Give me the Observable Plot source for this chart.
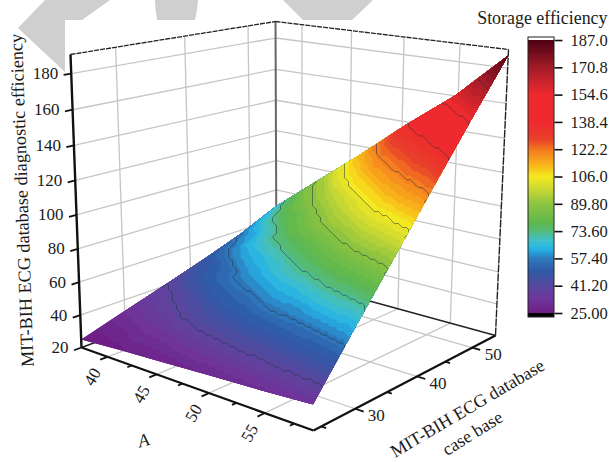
<!DOCTYPE html>
<html><head><meta charset="utf-8">
<style>html,body{margin:0;padding:0;background:#fff}svg{display:block}</style>
<script src="https://cdn.jsdelivr.net/npm/d3@7"></script>
<script src="https://cdn.jsdelivr.net/npm/@observablehq/plot@0.6"></script>
</head><body><div id="c"></div>
<script>
// ---------- data ----------
const aGrid = [37.2, 41.6, 46, 50.3, 54.7, 59.1];
const bGrid = [23.9, 30, 36.2, 42.3, 48.5, 54.6];
const zAtB0 = [25, 27, 28.6, 30.4, 32, 34];
const zAtB1 = [33, 39, 46, 52, 57, 64];
const zAtB2 = [41, 52, 61, 72, 84, 94];
const zAtB3 = [49, 64, 79, 94, 110, 124.5];
const zAtB4 = [58, 78, 96, 116, 133, 156];
const zAtB5 = [69, 92, 114.7, 138, 160, 187];
const zRows = [zAtB0, zAtB1, zAtB2, zAtB3, zAtB4, zAtB5];
const zTicks = [20, 40, 60, 80, 100, 120, 140, 160, 180];
const aTicks = [40, 45, 50, 55];
const aMinor = [42.5, 47.5, 52.5, 57.5];
const bTicks = [30, 40, 50];
const bMinor = [25, 35, 45];
const legendTicks = [25, 41.2, 57.4, 73.6, 89.8, 106, 122.2, 138.4, 154.6, 170.8, 187];
const legendLabels = ["25.00", "41.20", "57.40", "73.60", "89.80", "106.0", "122.2", "138.4", "154.6", "170.8", "187.0"];
const colorDomain = [25, 33, 41, 50, 57, 63, 68, 73.6, 78, 90, 100, 106, 112, 122, 128, 138, 154.6, 170.8, 187];
const colorRange = ["#6d1f86", "#6f349a", "#58489f", "#2f5aa6", "#2e78bb", "#25b4e6", "#3fc0cc", "#55bb7a", "#5cb74e", "#8fc440", "#d4dc30", "#f5ea1f", "#f9b91a", "#f47a20", "#e8402a", "#ee2a2f", "#ee2a2f", "#a01c28", "#4d0013"];

// ---------- box of the 3D view ----------
const range3 = {a: [37.2, 59.1], b: [23.9, 54.6], z: [20, 190.4]};
const floorCorners = [[81, 347], [313, 430], [495, 335], [276, 275]];
const topCorners = [[70, 54], [307, 92], [508, 49], [275, 21]];
const depth = 1.07;
function homography([p0, p1, p2, p3]) {
  const dx1 = p1[0] - p2[0], dx2 = p3[0] - p2[0], sx = p0[0] - p1[0] + p2[0] - p3[0];
  const dy1 = p1[1] - p2[1], dy2 = p3[1] - p2[1], sy = p0[1] - p1[1] + p2[1] - p3[1];
  const den = dx1 * dy2 - dx2 * dy1;
  const g = (sx * dy2 - dx2 * sy) / den, h = (dx1 * sy - sx * dy1) / den;
  const a = p1[0] - p0[0] + g * p1[0], b = p3[0] - p0[0] + h * p3[0];
  const d = p1[1] - p0[1] + g * p1[1], e = p3[1] - p0[1] + h * p3[1];
  return (u, v) => { const q = 1 + g * u + h * v; return [(a * u + b * v + p0[0]) / q, (d * u + e * v + p0[1]) / q]; };
}
const H0 = homography(floorCorners), H1 = homography(topCorners);
function project(A, B, Z) {
  const u = (A - range3.a[0]) / (range3.a[1] - range3.a[0]);
  const v = (B - range3.b[0]) / (range3.b[1] - range3.b[0]);
  const w = (Z - range3.z[0]) / (range3.z[1] - range3.z[0]);
  const t = w / (w + depth * (1 - w));
  const p = H0(u, v), q = H1(u, v);
  return [p[0] + t * (q[0] - p[0]), p[1] + t * (q[1] - p[1])];
}
const [a0, a1] = range3.a, [b0, b1] = range3.b, [z0, z1] = range3.z;
const seg = (p, q, extra = {}) => ({x1: p[0], y1: p[1], x2: q[0], y2: q[1], ...extra});
const links = (data, o) => Plot.link(data, {x1: "x1", y1: "y1", x2: "x2", y2: "y2", ...o});

// surface samples
const samples = [];
bGrid.forEach((b, j) => aGrid.forEach((a, i) => {
  const p = project(a, b, zRows[j][i]);
  samples.push({sx: p[0], sy: p[1], z: zRows[j][i]});
}));
const n = aGrid.length;
const outline = [];
for (let j = 0; j < n; j++) outline.push(project(a0, bGrid[j], zRows[j][0]));
for (let i = 1; i < n; i++) outline.push(project(aGrid[i], b1, zRows[n - 1][i]));
for (let j = n - 2; j >= 0; j--) outline.push(project(a1, bGrid[j], zRows[j][n - 1]));
for (let i = n - 2; i > 0; i--) outline.push(project(aGrid[i], b0, zRows[0][i]));

// grid lines on walls and floor
const grid = [
  ...zTicks.slice(1).map(z => seg(project(a0, b0, z), project(a0, b1, z))),
  ...zTicks.slice(1).map(z => seg(project(a0, b1, z), project(a1, b1, z))),
  ...bTicks.map(b => seg(project(a0, b, z0), project(a0, b, z1))),
  ...aTicks.map(a => seg(project(a, b1, z0), project(a, b1, z1))),
  ...aTicks.map(a => seg(project(a, b0, z0), project(a, b1, z0))),
  ...bTicks.map(b => seg(project(a0, b, z0), project(a1, b, z0)))
];
const ticks = [
  ...zTicks.map(z => seg(project(a0, b0, z), project(a0, b0 - 1, z))),
  ...aTicks.map(a => seg(project(a, b0, z0), project(a, b0 - 1, z0))),
  ...aMinor.map(a => seg(project(a, b0, z0), project(a, b0 - 0.6, z0))),
  ...bTicks.map(b => seg(project(a1, b, z0), project(a1 + 0.7, b, z0))),
  ...bMinor.map(b => seg(project(a1, b, z0), project(a1 + 0.4, b, z0)))
];

// colour bar
const barLeft = 528, barRight = 554, barTop = 37, barBottom = 317;
const legendY = v => 313 - (v - 25) * 1.685;
const barSteps = d3.range(25, 187, 1);

// faded shapes at the top of the page
const shapes = [
  {id: 1, a: [[18, 28], [45, 0], [110, 0]], b: [[65, 72], [65, 20], [82, 20]]},
  {id: 2, a: [[155, 0], [155.5, 10], [157, 20]], b: [[198, 0], [197, 10], [195, 20]]},
  {id: 3, a: [[283, 0], [330, 0], [373, 0]], b: [[303, 20], [330, 20], [352, 20]]}
].flatMap(s => s.a.map((p, i) => ({id: s.id, x1: p[0], y1: p[1], x2: s.b[i][0], y2: s.b[i][1]})));

const serif = "Liberation Serif";
const bandLevels = [15, ...d3.range(25, 190, 2.6)];
const contourLevels = legendTicks.slice(1, -1);

const chart = Plot.plot({
  width: 612, height: 462, margin: 0,
  x: {domain: [0, 612], range: [0, 612], axis: null},
  y: {domain: [0, 462], range: [0, 462], axis: null},
  color: {type: "linear", domain: colorDomain, range: colorRange, clamp: true, interpolate: "rgb"},
  style: {fontFamily: serif, background: "#fff", color: "#1a1a1a"},
  marks: [
    Plot.area(shapes, {x1: "x1", y1: "y1", x2: "x2", y2: "y2", z: "id", fill: "#cfcfcf"}),
    links(grid, {stroke: "#c6c6c6", strokeWidth: 1.3}),
    links([seg(project(a0, b1, z0), project(a1, b1, z0)), seg(project(a0, b0, z0), project(a0, b1, z0))], {stroke: "#222", strokeWidth: 1.4}),
    links([seg(project(a0, b1, z0), project(a0, b1, z1))], {stroke: "#666", strokeWidth: 2}),
    links([seg(project(a0, b0, z1), project(a0, b1, z1)), seg(project(a0, b1, z1), project(a1, b1, z1))], {stroke: "#222", strokeWidth: 1.3, strokeDasharray: "5,1"}),
    links([seg(project(a1, b1, z0), project(a1, b1, z1))], {stroke: "#222", strokeWidth: 1.4, strokeDasharray: "8,1"}),
    Plot.contour(samples, {x: "sx", y: "sy", fill: "z", interpolate: "barycentric", thresholds: bandLevels, pixelSize: 4, smooth: false}),
    Plot.contour(samples, {x: "sx", y: "sy", value: "z", stroke: "#1f2f3a", strokeWidth: 0.7, strokeOpacity: 0.75, fill: "none", interpolate: "barycentric", thresholds: contourLevels, pixelSize: 4, smooth: false}),
    links([seg(project(a0, b0, z0), project(a0, b0, z1))], {stroke: "#111", strokeWidth: 2.4}),
    links([seg(project(a0, b0, z0), project(a1, b0, z0)), seg(project(a1, b0, z0), project(a1, b1, z0))], {stroke: "#111", strokeWidth: 2.2}),
    links(ticks, {stroke: "#111", strokeWidth: 1.8}),
    Plot.text(zTicks, {x: z => project(a0, b0, z)[0], y: z => project(a0, b0, z)[1], text: z => String(z), textAnchor: "end", dx: -13, fontSize: 17, fill: "#1a1a1a"}),
    Plot.text(aTicks, {x: a => project(a, b0, z0)[0], y: a => project(a, b0, z0)[1], text: a => String(a), dx: -15, dy: 20, rotate: -60, fontSize: 17, fill: "#1a1a1a"}),
    Plot.text(bTicks, {x: b => project(a1, b, z0)[0], y: b => project(a1, b, z0)[1], text: b => String(b), dx: 21, dy: 7, fontSize: 17, fill: "#1a1a1a"}),
    Plot.text(["MIT-BIH ECG database diagnostic efficiency"], {x: 21.5, y: 200, rotate: -92, fontSize: 18.2, fill: "#1a1a1a"}),
    Plot.text(["A"], {x: 143, y: 440, rotate: -15, fontSize: 18, fontStyle: "italic", fill: "#1a1a1a"}),
    Plot.text(["MIT-BIH ECG database"], {x: 467, y: 408, rotate: -30.5, fontSize: 18, fill: "#1a1a1a"}),
    Plot.text(["case base"], {x: 472, y: 433, rotate: -32, fontSize: 18, fill: "#1a1a1a"}),
    Plot.text(["Storage efficiency"], {x: 607, y: 18, textAnchor: "end", fontSize: 17.9, fill: "#1a1a1a"}),
    Plot.rect([{t: barBottom, b: legendY(25)}], {x1: barLeft, x2: barRight, y1: "t", y2: "b", fill: "#000"}),
    Plot.rect(barSteps, {x1: barLeft, x2: barRight, y1: v => legendY(v), y2: v => legendY(v + 1), fill: v => v + 0.5, shapeRendering: "crispEdges"}),
    Plot.rect([0], {x1: barLeft, x2: barRight, y1: barTop, y2: barBottom, fill: "none", stroke: "#222", strokeWidth: 1}),
    links(legendTicks.map(v => seg([barRight, legendY(v)], [barRight + 8, legendY(v)])), {stroke: "#111", strokeWidth: 1.6}),
    Plot.text(legendTicks, {x: 570, y: v => legendY(v), text: (v, i) => legendLabels[i], textAnchor: "start", fontSize: 16.5, fill: "#1a1a1a"})
  ]
});

// keep the contour marks inside the projected outline of the surface
const sx = chart.scale("x").apply, sy = chart.scale("y").apply;
const ns = "http://www.w3.org/2000/svg";
const clip = document.createElementNS(ns, "clipPath");
clip.setAttribute("id", "surface-clip");
const clipPath = document.createElementNS(ns, "path");
clipPath.setAttribute("d", "M" + outline.map(p => sx(p[0]) + "," + sy(p[1])).join("L") + "Z");
clip.appendChild(clipPath);
chart.appendChild(clip);
chart.querySelectorAll('g[aria-label="contour"]').forEach(g => g.setAttribute("clip-path", "url(#surface-clip)"));
document.getElementById("c").appendChild(chart);
</script></body></html>
